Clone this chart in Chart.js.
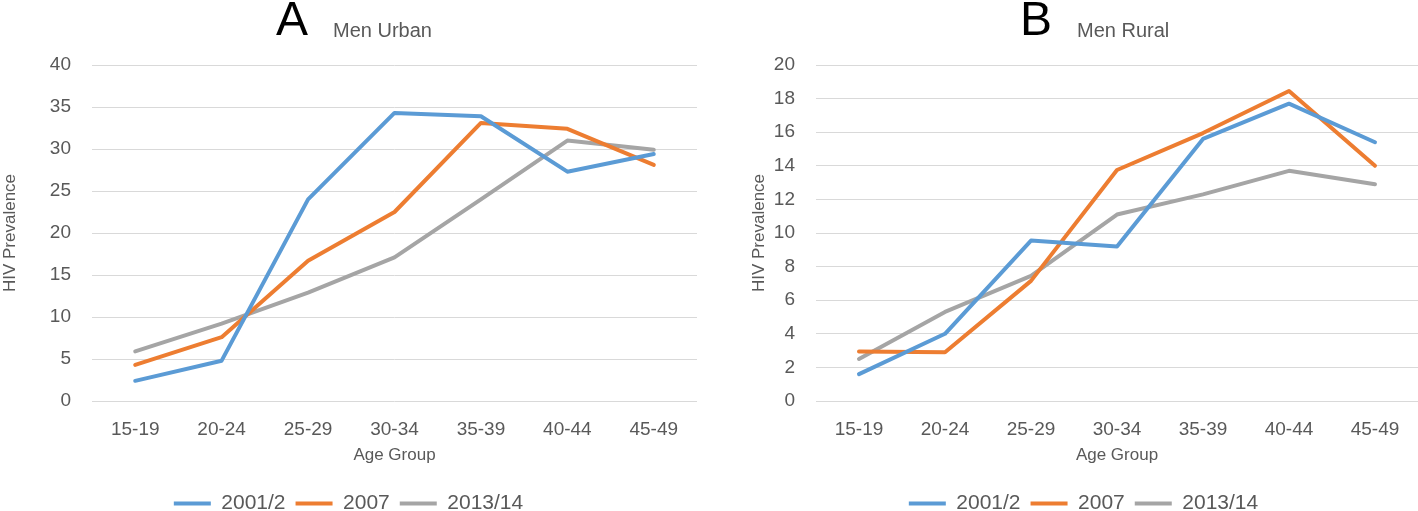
<!DOCTYPE html>
<html>
<head>
<meta charset="utf-8">
<script src="https://cdn.jsdelivr.net/npm/chart.js@4.4.1/dist/chart.umd.min.js"></script>
<style>
  html, body { margin: 0; padding: 0; background: #fff; overflow: hidden; }
  #wrap { position: relative; width: 1418px; height: 511px; overflow: hidden; }
  .panel { position: absolute; top: 0; width: 709px; height: 524px; }
</style>
</head>
<body>
<div id="wrap">
  <div class="panel" style="left:0"><canvas id="urban" width="709" height="524"></canvas></div>
  <div class="panel" style="left:709px"><canvas id="rural" width="709" height="524"></canvas></div>
</div>
<script>
// Age groups on the x axis
const ageGroups = ['15-19', '20-24', '25-29', '30-34', '35-39', '40-44', '45-49'];
const surveys = ['2001/2', '2007', '2013/14'];
const colors = ['#5b9bd5', '#ed7d31', '#a5a5a5'];

// HIV prevalence, men urban (panel A)
const urban2001 = [2.4, 4.8, 24.0, 34.3, 33.9, 27.3, 29.4];
const urban2007 = [4.3, 7.6, 16.7, 22.5, 33.1, 32.4, 28.1];
const urban2013 = [5.9, 9.2, 12.9, 17.1, 24.0, 31.0, 29.9];

// HIV prevalence, men rural (panel B)
const rural2001 = [1.6, 4.0, 9.55, 9.2, 15.6, 17.7, 15.4];
const rural2007 = [2.95, 2.9, 7.15, 13.75, 15.95, 18.45, 14.0];
const rural2013 = [2.5, 5.3, 7.45, 11.1, 12.3, 13.7, 12.9];

const FONT = "'Liberation Sans', Arial, sans-serif";
const GREY_TEXT = '#595959';

// draws the big panel letter and the small caption next to it
const panelTitle = {
  id: 'panelTitle',
  afterDraw(chart, args, opts) {
    const ctx = chart.ctx;
    ctx.save();
    ctx.textBaseline = 'alphabetic';
    ctx.textAlign = 'left';
    ctx.fillStyle = '#000';
    ctx.font = '48px ' + FONT;
    ctx.fillText(opts.letter, opts.x, 35);
    ctx.fillStyle = GREY_TEXT;
    ctx.font = '20px ' + FONT;
    ctx.fillText(opts.caption, opts.x + 57, 37);
    ctx.restore();
  }
};

function makeChart(id, series, cfg) {
  const datasets = series.map((data, i) => ({
    label: surveys[i],
    data,
    borderColor: colors[i],
    backgroundColor: colors[i],
    borderWidth: 4,
    pointRadius: 0,
    tension: 0,
    borderJoinStyle: 'round',
    borderCapStyle: 'round'
  }));
  return new Chart(document.getElementById(id), {
    type: 'line',
    data: { labels: ageGroups, datasets },
    plugins: [panelTitle],
    options: {
      responsive: false,
      animation: false,
      layout: { padding: { top: 65, left: cfg.padLeft, right: cfg.padRight, bottom: 0 } },
      scales: {
        x: {
          offset: true,
          afterFit: s => { s.height = 82; },
          grid: { display: false, drawTicks: false },
          border: { display: false },
          ticks: { color: GREY_TEXT, font: { family: FONT, size: 19 }, padding: 17 },
          title: { display: true, text: 'Age Group', color: GREY_TEXT, font: { family: FONT, size: 17 }, padding: { top: 0, bottom: 17 } }
        },
        y: {
          min: 0,
          max: cfg.max,
          afterFit: s => { s.width = cfg.yWidth; },
          ticks: { stepSize: cfg.step, color: GREY_TEXT, font: { family: FONT, size: 19 }, padding: 21 },
          grid: { color: '#d9d9d9', lineWidth: 1, drawTicks: false },
          border: { display: false },
          title: { display: true, text: 'HIV Prevalence', color: GREY_TEXT, font: { family: FONT, size: 17 }, padding: 0 }
        }
      },
      plugins: {
        panelTitle: { letter: cfg.letter, caption: cfg.caption, x: cfg.titleX },
        tooltip: { enabled: false },
        legend: {
          position: 'bottom',
          labels: {
            color: GREY_TEXT,
            font: { family: FONT, size: 21 },
            boxWidth: 37,
            boxHeight: 4,
            padding: 10,
            generateLabels: chart => Chart.defaults.plugins.legend.labels.generateLabels(chart)
              .map(l => Object.assign(l, { lineWidth: 0 }))
          }
        }
      }
    }
  });
}

makeChart('urban', [urban2001, urban2007, urban2013],
  { max: 40, step: 5, yWidth: 92, padLeft: 0, padRight: 12, letter: 'A', caption: 'Men Urban', titleX: 276 });
makeChart('rural', [rural2001, rural2007, rural2013],
  { max: 20, step: 2, yWidth: 67, padLeft: 40, padRight: 0, letter: 'B', caption: 'Men Rural', titleX: 311 });
</script>
</body>
</html>
